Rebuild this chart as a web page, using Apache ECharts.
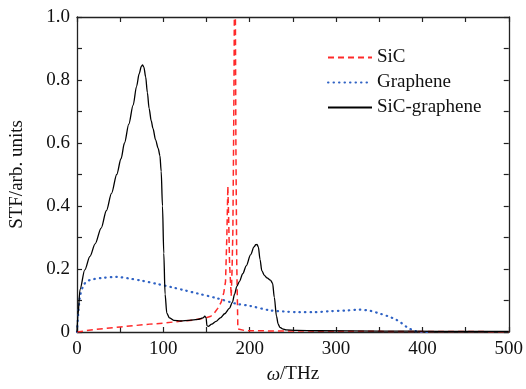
<!DOCTYPE html>
<html><head><meta charset="utf-8">
<script src="https://cdn.jsdelivr.net/npm/echarts@6/dist/echarts.min.js"></script>
<style>html,body{margin:0;padding:0;background:#fff}#c{width:526px;height:389px}</style>
</head><body><div id="c"></div>
<script>
var seriesNames = ['SiC', 'Graphene', 'SiC-graphene'];
var xTicks = [0, 100, 200, 300, 400, 500];
var yTicks = [0, 0.2, 0.4, 0.6, 0.8, 1.0];

var sicOmega = [0, 20, 50, 84, 100, 119, 135, 148, 155, 159, 163, 167, 170, 172, 173.5, 174.7, 175.7, 176.7, 178.6, 179.6, 180.5, 181.2, 181.7, 182.4, 183, 184, 185, 186.3, 188, 195, 250, 350, 500];
var sicValue = [0, 0.008, 0.016, 0.025, 0.028, 0.034, 0.038, 0.044, 0.05, 0.06, 0.075, 0.095, 0.125, 0.16, 0.3, 0.463, 0.35, 0.217, 0.113, 0.2, 0.32, 0.55, 0.74, 1.1, 1.3, 0.6, 0.22, 0.01, 0.005, 0.004, 0.003, 0.002, 0.001];

var grOmega = [0, 1.5, 3.5, 7, 11, 18, 30, 46, 60, 75, 92, 110, 125, 140, 161, 184, 200, 223, 240, 257, 275, 292, 310, 327, 340, 350, 360, 369, 376, 383, 392, 400, 410];
var grValue = [0, 0.06, 0.113, 0.145, 0.16, 0.167, 0.172, 0.175, 0.17, 0.163, 0.153, 0.142, 0.132, 0.122, 0.108, 0.09, 0.083, 0.069, 0.065, 0.063, 0.063, 0.066, 0.068, 0.071, 0.067, 0.059, 0.05, 0.04, 0.028, 0.014, 0.003, 0, 0];

var sgOmega = [0, 1, 3.5, 9, 15, 21, 28, 34, 40, 46, 51, 55, 60, 65, 69, 72, 74.5, 76, 77.5, 79.5, 81.5, 83.5, 86, 88, 91, 94, 96, 97.5, 99, 100.5, 102, 104, 107, 112, 120, 130, 140, 146, 148, 149.5, 150.5, 152, 156, 161, 166, 171, 176.5, 180, 182.5, 185, 188, 192, 196, 201, 205, 207, 208.5, 210, 212, 214, 217, 220, 224, 226.5, 228.5, 231, 233, 235, 238, 242, 254, 280, 350, 420, 500];
var sgValue = [0, 0.05, 0.135, 0.197, 0.24, 0.28, 0.33, 0.385, 0.44, 0.50, 0.55, 0.60, 0.66, 0.72, 0.78, 0.82, 0.843, 0.848, 0.84, 0.81, 0.76, 0.71, 0.67, 0.646, 0.61, 0.583, 0.56, 0.51, 0.40, 0.25, 0.12, 0.06, 0.045, 0.037, 0.035, 0.037, 0.04, 0.045, 0.05, 0.045, 0.02, 0.018, 0.025, 0.034, 0.045, 0.058, 0.075, 0.095, 0.12, 0.144, 0.16, 0.185, 0.21, 0.245, 0.27, 0.277, 0.278, 0.27, 0.23, 0.195, 0.18, 0.172, 0.165, 0.155, 0.11, 0.05, 0.025, 0.015, 0.01, 0.007, 0.005, 0.004, 0.003, 0.002, 0.002];

function pairs(xs, ys) { return xs.map(function (x, i) { return [x, ys[i]]; }); }

var FONT = 'Liberation Serif';
var FS = 19;
var axisLineStyle = { color: '#222', width: 1.3 };
function xAx(pos, show) {
  return {
    type: 'value', position: pos, min: 0, max: 500, interval: 50,
    axisLine: { show: true, onZero: false, lineStyle: axisLineStyle },
    axisTick: { show: true, inside: true, length: 5, lineStyle: { color: '#222', width: 1.2 } },
    splitLine: { show: false },
    axisLabel: { show: show, margin: 8, color: '#111', fontFamily: FONT, fontSize: FS,
      formatter: function (v) { return xTicks.indexOf(v) >= 0 ? String(v) : ''; } },
    name: show ? '{i|ω}/THz' : '', nameLocation: 'middle', nameGap: 33,
    nameTextStyle: { color: '#111', fontFamily: FONT, fontSize: FS,
      rich: { i: { fontStyle: 'italic', fontFamily: FONT, fontSize: FS, color: '#111' } } }
  };
}
function yAx(pos, show) {
  return {
    type: 'value', position: pos, min: 0, max: 1, interval: 0.1,
    axisLine: { show: true, onZero: false, lineStyle: axisLineStyle },
    axisTick: { show: true, inside: true, length: 5, lineStyle: { color: '#222', width: 1.2 } },
    splitLine: { show: false },
    axisLabel: { show: show, margin: 7, color: '#111', fontFamily: FONT, fontSize: FS,
      formatter: function (v) {
        for (var i = 0; i < yTicks.length; i++) {
          if (Math.abs(yTicks[i] - v) < 1e-6) return yTicks[i] === 0 ? '0' : yTicks[i].toFixed(1);
        }
        return '';
      } },
    name: show ? 'STF/arb. units' : '', nameLocation: 'middle', nameGap: 50,
    nameTextStyle: { color: '#111', fontFamily: FONT, fontSize: FS }
  };
}

var chart = echarts.init(document.getElementById('c'), null, { renderer: 'canvas' });
chart.setOption({
  backgroundColor: '#fff',
  animation: false,
  grid: { left: 77, right: 16, top: 17, bottom: 53, containLabel: false },
  xAxis: [xAx('bottom', true), xAx('top', false)],
  yAxis: [yAx('left', true), yAx('right', false)],
  legend: {
    orient: 'vertical', left: 322, top: 43, itemWidth: 44, itemHeight: 12, itemGap: 6,
    data: seriesNames,
    itemStyle: { opacity: 0 },
    textStyle: { color: '#111', fontFamily: FONT, fontSize: FS }
  },
  series: [
    { name: seriesNames[0], type: 'line', data: pairs(sicOmega, sicValue), symbol: 'none', clip: true,
      lineStyle: { color: '#ff2a2a', width: 1.5, type: [6, 4] }, itemStyle: { color: '#ff2a2a' }, z: 3 },
    { name: seriesNames[1], type: 'line', data: pairs(grOmega, grValue), symbol: 'none', smooth: 0.3, clip: true,
      lineStyle: { color: '#2f62c4', width: 2.2, type: [0.5, 5], cap: 'round' }, itemStyle: { color: '#2f62c4' }, z: 2 },
    { name: seriesNames[2], type: 'line', data: pairs(sgOmega, sgValue), symbol: 'none', smooth: 0.3, smoothMonotone: 'x', clip: true,
      lineStyle: { color: '#000', width: 1.3 }, itemStyle: { color: '#000' }, z: 4 }
  ]
});
</script></body></html>
